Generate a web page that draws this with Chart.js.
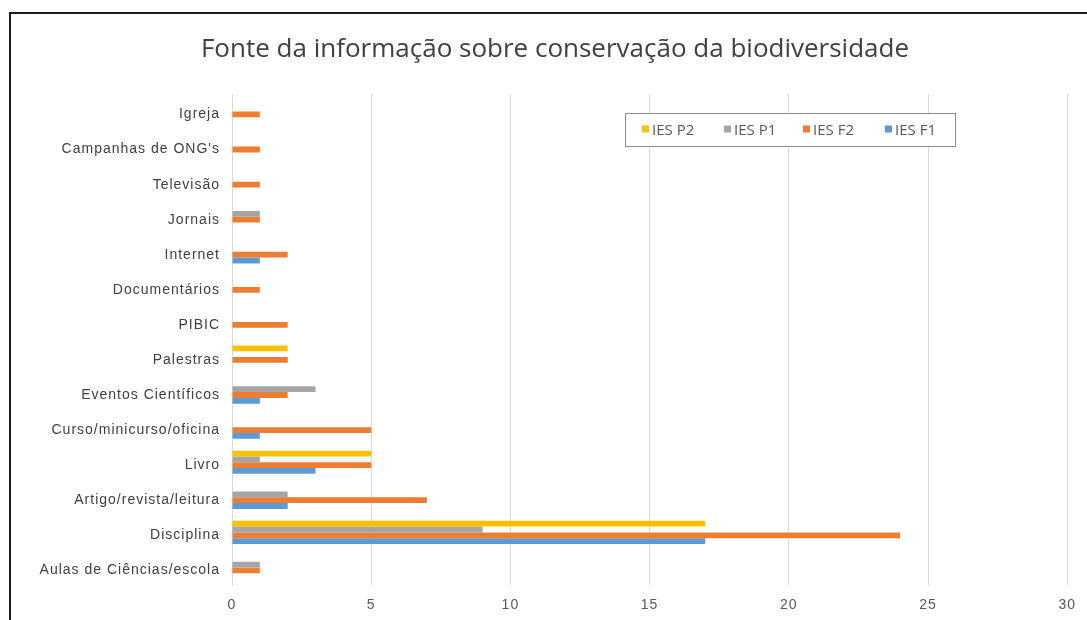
<!DOCTYPE html>
<html>
<head>
<meta charset="utf-8">
<script src="https://cdn.jsdelivr.net/npm/chart.js@4"></script>
<style>
  html, body { margin: 0; padding: 0; background: #fff; }
  #wrap { width: 1087px; height: 620px; position: relative; }
</style>
</head>
<body>
<div id="wrap"><canvas id="chart" width="1087" height="620"></canvas></div>
<script>
const categories = [
  'Igreja', "Campanhas de ONG's", 'Televisão', 'Jornais', 'Internet',
  'Documentários', 'PIBIC', 'Palestras', 'Eventos Científicos',
  'Curso/minicurso/oficina', 'Livro', 'Artigo/revista/leitura',
  'Disciplina', 'Aulas de Ciências/escola'
];
const iesP2 = [0, 0, 0, 0, 0, 0, 0, 2, 0, 0, 5, 0, 17, 0];
const iesP1 = [0, 0, 0, 1, 0, 0, 0, 0, 3, 0, 1, 2, 9, 1];
const iesF2 = [1, 1, 1, 1, 2, 1, 2, 2, 2, 5, 5, 7, 24, 1];
const iesF1 = [0, 0, 0, 0, 1, 0, 0, 0, 1, 1, 3, 2, 17, 0];
const xTicks = [0, 5, 10, 15, 20, 25, 30];
const chartTitle = 'Fonte da informação sobre conservação da biodiversidade';

// frame round the picture and the title (title sits off-centre in the original)
const framePlugin = {
  id: 'frame',
  beforeDraw(chart) {
    const ctx = chart.ctx;
    ctx.save();
    ctx.letterSpacing = '0px';
    ctx.strokeStyle = '#1a1a1a';
    ctx.lineWidth = 2;
    ctx.strokeRect(10, 13, 1200, 800);
    ctx.fillStyle = '#404040';
    ctx.font = '26px "Open Sans", sans-serif';
    ctx.textAlign = 'center';
    ctx.textBaseline = 'middle';
    ctx.fillText(chartTitle, 555, 50);
    ctx.restore();
    // the axis labels in the original are drawn wide
    ctx.letterSpacing = '1px';
  },
  afterDraw(chart) {
    chart.ctx.letterSpacing = '0px';
  }
};

// legend box drawn inside the plot, top right
const boxLegend = {
  id: 'boxLegend',
  afterDraw(chart) {
    const ctx = chart.ctx;
    const x0 = 625, y0 = 113, w = 330, h = 33;
    ctx.save();
    ctx.letterSpacing = '0px';
    ctx.fillStyle = '#fff';
    ctx.fillRect(x0, y0, w, h);
    ctx.strokeStyle = '#8c8c8c';
    ctx.lineWidth = 1;
    ctx.strokeRect(x0 + 0.5, y0 + 0.5, w, h);
    ctx.font = '15px "Open Sans", sans-serif';
    ctx.textBaseline = 'middle';
    const xs = [642, 724, 803, 885];
    chart.data.datasets.forEach((ds, i) => {
      ctx.fillStyle = ds.backgroundColor;
      ctx.fillRect(xs[i], y0 + h / 2 - 4, 7, 7);
      ctx.fillStyle = '#595959';
      ctx.fillText(ds.label, xs[i] + 10, y0 + h / 2 + 1);
    });
    ctx.restore();
  }
};

new Chart(document.getElementById('chart'), {
  type: 'bar',
  data: {
    labels: categories,
    datasets: [
      { label: 'IES P2', data: iesP2, backgroundColor: '#FFC000' },
      { label: 'IES P1', data: iesP1, backgroundColor: '#A5A5A5' },
      { label: 'IES F2', data: iesF2, backgroundColor: '#ED7D31' },
      { label: 'IES F1', data: iesF1, backgroundColor: '#5B9BD5' }
    ]
  },
  options: {
    indexAxis: 'y',
    responsive: false,
    animation: false,
    layout: { padding: { left: 0, right: 19, top: 94, bottom: 0 } },
    datasets: { bar: { barPercentage: 1, categoryPercentage: 0.66 } },
    plugins: {
      legend: { display: false },
      tooltip: { enabled: false },
      title: { display: false }
    },
    scales: {
      x: {
        min: 0,
        max: 30,
        afterBuildTicks(scale) { scale.ticks = xTicks.map(v => ({ value: v })); },
        grid: { color: '#d9d9d9', drawTicks: false },
        border: { display: false },
        ticks: {
          color: '#595959',
          padding: 12,
          font: { family: '"Liberation Sans", Arial, sans-serif', size: 14 }
        },
        afterFit(scale) { scale.height = 35; }
      },
      y: {
        grid: { display: false, drawTicks: false },
        border: { display: true, color: '#d9d9d9' },
        ticks: {
          color: '#404040',
          padding: 12,
          labelOffset: 3,
          autoSkip: false,
          font: { family: '"Liberation Sans", Arial, sans-serif', size: 14 }
        },
        afterFit(scale) { scale.width = 232; }
      }
    }
  },
  plugins: [framePlugin, boxLegend]
});
</script>
</body>
</html>
